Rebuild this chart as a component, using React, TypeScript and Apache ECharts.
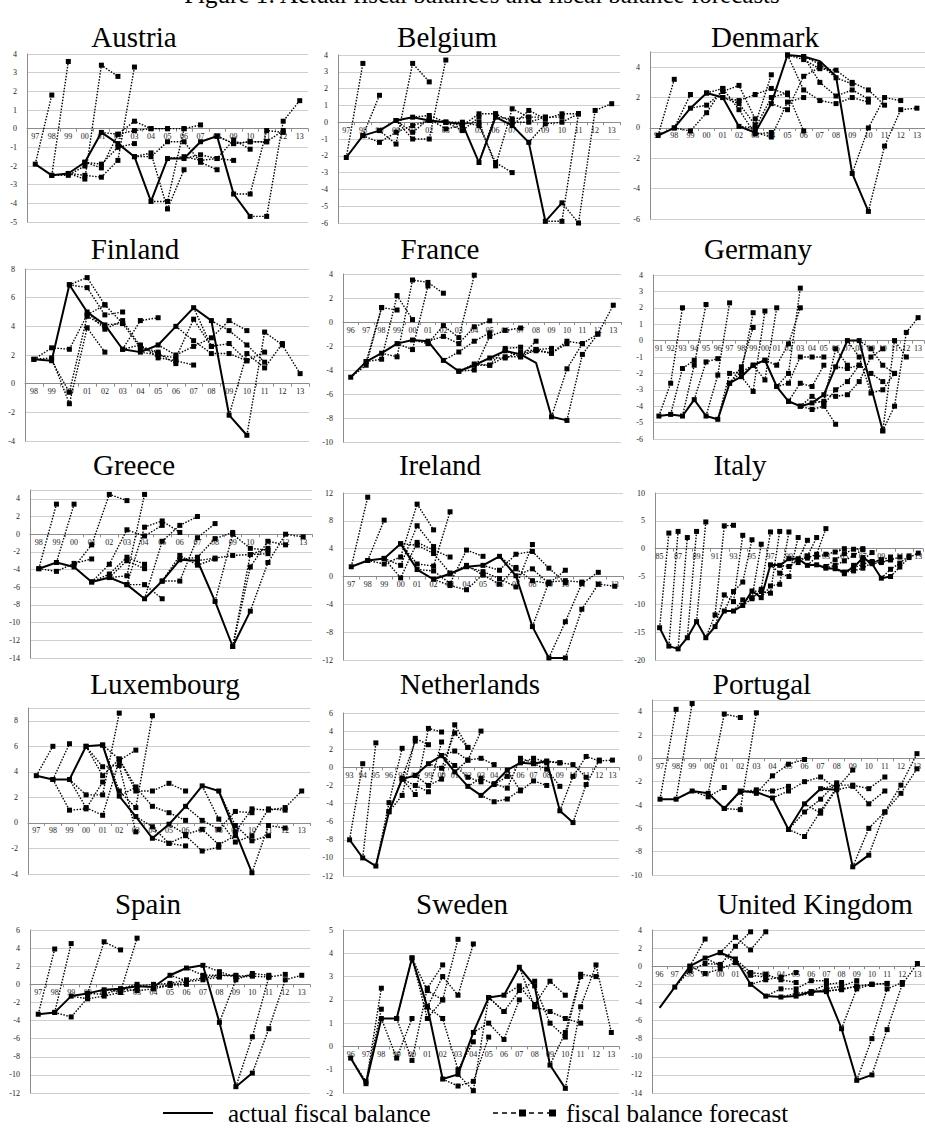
import React, { useEffect, useRef } from "react";
import * as echarts from "echarts";

type FC = (string | number)[];

const yrs = (from: number, to: number) => {
  const out: string[] = [];
  for (let y = from; y <= to; y++) out.push(String(y % 100).padStart(2, "0"));
  return out;
};

// ---------- data ----------
const austriaYears = yrs(1997, 2013);
const austriaActual = [-1.9, -2.5, -2.4, -1.8, -0.2, -0.8, -1.5, -3.9, -1.6, -1.6, -0.7, -0.4, -3.5, -4.7];
const austriaForecasts: FC[] = [
  ["97", -1.9, 1.8], ["98", -2.5, 3.6], ["98", -2.5, -2.5, -2.0],
  ["99", -2.4, -2.7, 3.4, 2.8], ["99", -2.4, -2.5, -2.6, -1.7, 3.3],
  ["00", -1.8, -2.1, -0.3, 0.4, 0.0, 0.0], ["00", -1.8, -1.9, -1.0, -0.8],
  ["01", -0.2, -0.3, -0.1, 0.0, 0.0, 0.0], ["02", -0.8, -1.5, -1.3, -4.3, -2.2],
  ["03", -1.5, -1.5, -0.7, -0.7, -1.8, -2.2], ["04", -3.9, -3.9, 0.0, 0.2],
  ["05", -1.6, -1.5, -1.7, -1.6, -1.7], ["06", -1.6, -1.4, -1.6, -0.6, -1.1],
  ["07", -0.7, -0.4, -0.8, -0.7, -0.7], ["08", -0.4, -0.8, -0.7, -0.7, -0.1],
  ["09", -3.5, -3.5, -0.1, -0.2], ["10", -4.7, -4.7, 0.4, 1.5],
];

const belgiumYears = yrs(1997, 2013);
const belgiumActual = [-2.1, -0.8, -0.5, 0.1, 0.3, 0.1, 0.0, -0.1, -2.4, 0.3, -0.2, -1.2, -5.9, -4.8];
const belgiumForecasts: FC[] = [
  ["97", -2.1, 3.5], ["98", -0.8, 1.6], ["98", -0.8, -1.2, -0.6, -0.2, 0.1],
  ["99", -0.5, -1.3, 3.5, 2.4], ["00", 0.1, -1.0, -1.0, 3.7], ["00", 0.1, -0.6, 0.2, -0.4, -0.2],
  ["01", 0.3, 0.4, 0.0, -0.5, 0.3], ["02", 0.1, 0.0, -0.2, 0.5, 0.5],
  ["03", 0.0, 0.0, -0.2, -2.4, -3.0], ["04", -0.1, 0.0, -2.6, 0.8, 0.3],
  ["05", -2.4, 0.5, 0.0, 0.0, 0.3], ["06", 0.3, 0.2, 0.3, 0.3, 0.3],
  ["07", -0.2, 0.7, 0.2, 0.5, 0.5], ["08", -1.2, -0.1, 0.0, 0.5],
  ["09", -5.9, -5.9, 0.5], ["10", -4.8, -6.0, 0.7, 1.1],
];

const denmarkYears = yrs(1997, 2013);
const denmarkActual = [-0.5, 0.0, 1.3, 2.3, 2.0, 0.1, -0.3, 1.6, 4.8, 4.7, 4.4, 3.4, -3.0, -5.5];
const denmarkForecasts: FC[] = [
  ["97", -0.5, 3.2], ["98", 0.0, 2.2], ["98", 0.0, -0.2, 1.0, 2.6],
  ["99", 1.3, 1.5, 2.4, 2.8, 0.6], ["00", 2.3, 2.0, 1.6, 0.2, 3.5],
  ["00", 2.3, 2.6, 1.2, -0.4, -0.3], ["01", 2.0, 1.8, 2.2, 2.6, 2.2],
  ["02", 0.1, 0.0, 2.0, 2.3, -0.2], ["03", -0.3, -0.6, 1.7, 2.0],
  ["04", 1.6, 1.2, 3.4, 4.0], ["05", 4.8, 4.5, 3.9, 3.8, 3.0, 2.5, 1.5],
  ["05", 4.8, 2.5, 1.8, 1.6, 2.0, 1.7], ["06", 4.7, 3.0, 2.1, 2.5, 1.9],
  ["06", 4.7, 4.2, 3.3, 2.9], ["09", -3.0, 0.0, 2.0, 1.8], ["10", -5.5, -1.2, 1.2, 1.3],
];

const finlandYears = yrs(1998, 2013);
const finlandActual = [1.7, 1.6, 6.9, 5.0, 4.1, 2.4, 2.2, 2.7, 4.0, 5.3, 4.4, -2.2, -3.6];
const finlandForecasts: FC[] = [
  ["98", 1.7, 2.5, 2.4, 4.8, 5.5], ["98", 1.7, 1.8, -1.4, 3.9, 2.2],
  ["99", 1.6, -0.6, 4.7, 4.0], ["00", 6.9, 7.4, 5.5, 4.2], ["00", 6.9, 6.7, 4.8, 5.0],
  ["01", 5.0, 3.8, 4.4, 2.6, 2.2], ["02", 4.1, 4.2, 2.5, 2.1, 1.4], ["03", 2.4, 4.4, 4.6],
  ["03", 2.4, 2.7, 1.8, 1.6, 1.3], ["04", 2.2, 2.0, 1.8, 4.5, 2.6],
  ["05", 2.7, 2.0, 2.6, 3.2, 4.4, 3.7], ["06", 4.0, 3.0, 2.1, 2.1, 1.6],
  ["07", 5.3, 2.6, 2.8, 1.6, 2.2], ["08", 4.4, 3.7, 2.7, 1.5],
  ["09", -2.2, 2.1, 1.1, 2.8], ["10", -3.6, 3.6, 2.7, 0.7],
];

const franceYears = yrs(1996, 2013);
const franceActual = [-4.6, -3.3, -2.6, -1.8, -1.5, -1.6, -3.2, -4.1, -3.6, -3.0, -2.4, -2.7, -3.4, -7.9, -8.2];
const franceForecasts: FC[] = [
  ["96", -4.6, -3.6, 1.2], ["97", -3.3, -3.1, 2.2, 0.2], ["97", -3.3, 1.2, 1.0],
  ["98", -2.6, -2.9, 3.5, 3.3, 2.4], ["99", -1.8, -2.3, 3.0], ["00", -1.5, -1.8, -0.3, -1.3, 3.9],
  ["01", -1.6, -1.2, -1.8, -0.4, 0.1], ["02", -3.2, -2.5, -1.6, -0.9],
  ["03", -4.1, -4.0, -1.2, -0.7, -0.5], ["03", -4.1, -3.5, -3.6, -2.2, -2.1],
  ["04", -3.6, -3.6, -2.9, -2.9, -1.6], ["05", -3.0, -3.0, -2.5, -2.3, -2.2],
  ["06", -2.4, -2.9, -2.3, -2.6, -1.8], ["07", -2.7, -2.4, -2.6, -1.6, -1.8],
  ["09", -7.9, -3.9, -1.8, -1.0], ["10", -8.2, -2.7, -1.0, 1.4],
];

const germanyYears = yrs(1991, 2013);
const germanyActual = [-4.6, -4.5, -4.6, -3.6, -4.6, -4.8, -2.6, -2.2, -1.5, -1.2, -2.8, -3.7, -4.0, -3.8, -3.3, -1.6, 0.0, 0.0, -2.8, -5.5];
const germanyForecasts: FC[] = [
  ["91", -4.6, -2.6, 2.0], ["92", -4.5, -1.7, -1.2], ["93", -4.6, -1.5, 2.2],
  ["94", -3.6, -1.3, -1.1], ["95", -4.6, -2.1, 2.3], ["96", -4.8, -2.0, -1.9, 1.7],
  ["97", -2.6, -1.6, 0.8], ["97", -2.6, -1.9, -1.5, -1.2], ["98", -2.2, -3.1, 1.8],
  ["99", -1.5, -2.4, 2.0], ["00", -1.2, -1.5, -0.2, 2.0], ["01", -2.8, -2.0, 3.2],
  ["01", -2.8, -2.6, -1.0, -1.0, -1.0], ["02", -3.7, -2.6, -2.8, -1.5],
  ["02", -3.7, -4.0, -4.2, -4.0, -5.1], ["03", -4.0, -3.4, -3.9, -3.0, -2.5, -1.5],
  ["04", -3.8, -3.7, -0.5, -1.5], ["05", -3.3, -3.4, -3.3, -2.5, -1.0, -0.5],
  ["06", -1.6, -1.7, -1.5, -2.0, -2.5], ["07", 0.0, -1.0, -3.2, -3.0, -2.0],
  ["08", 0.0, -0.5, -1.5, -2.0], ["10", -5.5, -4.0, 0.5, 1.4], ["10", -5.5, 0.0, -1.0],
];

const greeceYears = yrs(1998, 2013);
const greeceActual = [-3.9, -3.2, -3.7, -5.4, -4.9, -5.7, -7.3, -5.3, -2.9, -3.0, -7.6, -12.7, -8.7];
const greeceForecasts: FC[] = [
  ["98", -3.9, 3.4], ["98", -3.9, -4.2, -3.3, -2.8], ["99", -3.2, 3.4],
  ["00", -3.7, -1.2, 4.5, 3.8], ["01", -5.4, -3.4, 0.5, -0.2, 1.0], ["01", -5.4, -4.5, -2.6, -3.4],
  ["02", -4.9, -4.7, 4.5], ["02", -4.9, -3.0, -3.9], ["03", -5.7, 0.8, 1.5, 0.2],
  ["03", -5.7, -5.7, -7.3], ["04", -7.3, -0.8, 1.0, 2.0], ["05", -5.3, -5.3, -0.4, 1.2],
  ["05", -5.3, -2.4, -3.5, -2.8], ["06", -2.9, -2.6, -0.5, 0.2], ["07", -3.0, -2.7, -2.4, -2.3, -2.2],
  ["08", -7.6, 0.0, -1.6, -1.8], ["09", -12.7, -3.7, -0.8, -1.2], ["09", -12.7, -2.3, -1.6],
  ["10", -8.7, -3.2, 0.0, -0.3],
];

const irelandYears = yrs(1997, 2013);
const irelandActual = [1.4, 2.3, 2.6, 4.7, 1.0, -0.4, 0.4, 1.4, 1.6, 2.9, 0.1, -7.2, -11.7, -11.7];
const irelandForecasts: FC[] = [
  ["97", 1.4, 11.4], ["98", 2.3, 8.1], ["98", 2.3, 1.8, 2.8, 10.4, 6.7],
  ["99", 2.6, 1.6, 7.3, 4.3], ["99", 2.6, -0.2, 4.9, 3.8, 2.8], ["00", 4.7, 1.8, 1.5, 9.3],
  ["00", 4.7, 4.5, 3.3, 0.5], ["01", 1.0, 0.8, -1.0, 3.8, 2.9], ["02", -0.4, -1.3, -1.9, 0.3],
  ["03", 0.4, 1.6, 0.2, -1.1, 1.3], ["04", 1.4, 0.7, -0.3, -1.5, 4.6],
  ["05", 1.6, 0.9, 3.2, 3.6, 1.2, -0.9], ["06", 2.9, 1.1, -0.6, -1.0], ["07", 0.1, 1.1, -1.0, 0.9],
  ["08", -7.2, -0.8, -0.6, -0.8], ["09", -11.7, -6.5, -1.0, 0.6], ["10", -11.7, -4.7, -1.1, -1.4],
];

const italyYears = yrs(1985, 2013);
const italyActual = [-14.2, -17.5, -18.0, -16.0, -13.1, -16.0, -14.0, -11.2, -11.2, -10.2, -7.6, -8.8, -2.9, -3.0, -1.8, -1.8, -3.0, -2.9, -3.5, -3.6, -4.2, -3.4, -1.6, -2.7, -5.3, -5.0];
const italyForecasts: FC[] = [
  ["85", -14.2, 2.8], ["86", -17.5, 3.1], ["87", -18.0, 2.0], ["88", -16.0, 3.1], ["89", -13.1, 4.8],
  ["90", -16.0, -11.9, 4.1, 4.2], ["91", -14.0, -8.3, -9.5, 2.4], ["92", -11.2, -7.7, -6.0, 1.6],
  ["93", -11.2, -9.2, -8.8, 0.8], ["94", -10.2, -9.0, -7.3, 3.0], ["95", -7.6, -7.7, -8.0, 3.1],
  ["96", -8.8, -6.7, -6.4, 3.0], ["97", -2.9, -4.4, -5.0, 2.0], ["98", -3.0, -3.2, -2.0, 1.5],
  ["99", -1.8, -2.5, -1.3, 2.0], ["00", -1.8, -1.7, -1.0, 3.6], ["01", -3.0, -1.5, -1.0, -0.6, 0.0],
  ["02", -2.9, -3.2, -2.0, -0.9, -0.1, 0.0], ["03", -3.5, -3.0, -2.2, -1.2, -0.2],
  ["04", -3.6, -4.5, -3.0, -2.0, -0.7], ["05", -4.2, -4.0, -3.5, -2.5, -2.0],
  ["06", -3.4, -2.8, -2.3, -2.0, -1.5], ["07", -1.6, -2.5, -2.3, -2.0], ["08", -2.7, -2.5, -2.0, -1.5],
  ["09", -5.3, -3.7, -2.6, -1.3], ["10", -5.0, -3.3, -1.6, -0.8],
];

const luxembourgYears = yrs(1997, 2013);
const luxembourgActual = [3.7, 3.4, 3.4, 6.0, 6.1, 2.1, 0.5, -1.2, -0.1, 1.3, 2.9, 2.5, -0.7, -3.9];
const luxembourgForecasts: FC[] = [
  ["97", 3.7, 6.0], ["98", 3.4, 6.2], ["98", 3.4, 1.0, 1.1, 3.2], ["99", 3.4, 2.2, 2.2, 8.6],
  ["99", 3.4, 1.2, 0.6, 4.9, 5.7], ["00", 6.0, 3.7, 5.0, 2.8], ["00", 6.0, 4.4, 4.5, -0.7],
  ["01", 6.1, 2.5, 1.2, 8.4], ["01", 6.1, 5.0, 2.5, 2.5, 3.1, 2.5], ["02", 2.1, 2.8, 1.3, 0.8, 0.2],
  ["03", 0.5, -0.3, -1.6, -1.8], ["04", -1.2, -1.6, -1.0, -2.2, -1.9], ["05", -0.1, -0.9, -0.5, -1.7, -1.0],
  ["06", 1.3, 0.2, -0.5, 0.9, 0.8], ["07", 2.9, 0.3, -1.5, -1.0, 1.1, 1.0], ["08", 2.5, -0.2, -1.4, -1.0],
  ["09", -0.7, 1.1, 1.0, 1.2, 2.5], ["10", -3.9, -0.2, -0.4],
];

const netherlandsYears = yrs(1993, 2013);
const netherlandsActual = [-8.0, -10.0, -10.9, -4.9, -1.3, -0.9, 0.4, 1.3, -0.5, -2.1, -3.1, -1.8, -0.3, 0.5, 0.4, 0.7, -4.8, -6.1];
const netherlandsForecasts: FC[] = [
  ["93", -8.0, 0.4], ["94", -10.0, 2.7], ["95", -10.9, -3.9, 2.1], ["96", -4.9, -3.1, 3.2, 2.5],
  ["96", -4.9, -1.2, 2.9], ["97", -1.3, -3.0, 4.3, 3.9], ["97", -1.3, -2.0, -2.7, 2.8],
  ["98", -0.9, -2.0, -1.3, 4.7, 2.2], ["99", 0.4, -0.1, 3.8, 2.2], ["00", 1.3, 1.8, 0.8, 4.0],
  ["00", 1.3, 0.2, -1.1, -1.6], ["01", -0.5, 0.8, 1.0, 0.3], ["02", -2.1, -1.2, -1.9, -1.0],
  ["03", -3.1, -3.8, -3.5, -2.5], ["04", -1.8, -2.3, 1.0, 0.5, 0.5], ["05", -0.3, -2.6, -1.5, -2.0],
  ["06", 0.5, 1.0, 0.6, 0.5], ["07", 0.4, -0.2, -2.1], ["08", 0.7, 0.5, 0.3, -1.1],
  ["09", -4.8, -1.0, 1.2, 0.7, 0.8, 1.5], ["10", -6.1, -1.9, 0.8],
];

const portugalYears = yrs(1997, 2013);
const portugalActual = [-3.5, -3.5, -2.8, -3.0, -4.3, -2.8, -2.9, -3.4, -6.1, -3.9, -2.6, -2.7, -9.3, -8.3];
const portugalForecasts: FC[] = [
  ["97", -3.5, 4.2], ["98", -3.5, 4.7], ["99", -2.8, -3.3, -2.5], ["00", -3.0, 3.8, 3.5],
  ["01", -4.3, -4.4, 3.9], ["01", -4.3, -2.9, -2.7, -2.8, -2.4], ["02", -2.8, -3.0, -1.5, -0.5, -0.1],
  ["04", -3.4, -2.8, -2.0, -1.6, -2.6], ["05", -6.1, -6.7, -4.5, -2.5], ["05", -6.1, -4.6, -3.5, -2.1],
  ["06", -3.9, -4.7, -2.6, -1.0], ["07", -2.6, -2.3, -2.3, -2.6, -1.6], ["08", -2.7, -2.4, -3.9, -2.8],
  ["09", -9.3, -6.0, -4.6, -3.0, -0.9], ["10", -8.3, -4.6, -2.3, 0.4],
];

const spainYears = yrs(1997, 2013);
const spainActual = [-3.3, -3.1, -1.3, -1.0, -0.6, -0.5, -0.2, -0.3, 1.0, 1.8, 2.1, -4.2, -11.3, -9.8];
const spainForecasts: FC[] = [
  ["97", -3.3, 3.9], ["98", -3.1, 4.5], ["98", -3.1, -3.6, -1.5], ["99", -1.3, -1.6, -1.3, -0.9, -0.5],
  ["00", -1.0, 4.7, 3.8], ["01", -0.6, -0.8, 5.1], ["00", -1.0, -1.1, -0.5, 0.0],
  ["02", -0.5, -0.7, -0.5, -0.1, 0.0], ["03", -0.2, 0.0, 0.1, 0.5], ["04", -0.3, -0.1, 0.3, 0.5, 0.8],
  ["05", 1.0, 0.4, 0.7, 1.0, 1.0], ["06", 1.8, 1.0, 1.0, 0.9, 1.0], ["07", 2.1, 1.4, 0.8, 0.9, 0.8],
  ["08", -4.2, 0.5, 1.2, 1.0], ["09", -11.3, -5.8, 0.8, 1.1], ["10", -9.8, -4.9, 0.5, 1.0, -0.3],
];

const swedenYears = yrs(1996, 2013);
const swedenActual = [-0.5, -1.6, 1.2, 1.2, 3.8, 1.7, -1.4, -1.2, 0.6, 2.1, 2.2, 3.4, 2.6, -0.8, -1.8];
const swedenForecasts: FC[] = [
  ["96", -0.5, -1.5, 1.6], ["97", -1.6, 2.5], ["98", 1.2, -0.5, 1.2], ["99", 1.2, 3.8, 1.2, 2.0],
  ["99", 1.2, -0.6, 2.5, 3.5], ["00", 3.8, 2.4, 2.0, 4.6], ["01", 1.7, 3.0, 2.2, 4.4],
  ["01", 1.7, 1.2, -1.0, 0.2], ["02", -1.4, -1.7, -1.5, 0.4], ["03", -1.2, -1.9, 2.1, 1.5],
  ["04", 0.6, 1.0, 0.3, 2.0], ["05", 2.1, 1.5, 2.4, 2.8], ["06", 2.2, 2.6, 1.8, 2.8, 2.2],
  ["07", 3.4, 1.7, 1.5, 1.2, 1.0], ["08", 2.6, 1.0, 0.4, 3.0], ["09", -0.8, 0.6, 3.1, 3.0],
  ["10", -1.8, 1.7, 3.5, 0.6],
];

const ukYears = yrs(1996, 2013);
const ukActual = [-4.6, -2.3, 0.0, 0.9, 1.5, 0.8, -2.0, -3.3, -3.4, -3.3, -2.8, -2.8, -6.9, -12.6, -12.0];
const ukForecasts: FC[] = [
  ["97", -2.3, -0.5, 0.3, 0.2], ["98", 0.0, 3.0], ["98", 0.0, -0.8, -0.3, 0.4],
  ["99", 0.9, 0.1, 2.2, 3.8], ["00", 1.5, 3.2, 1.8, 3.8], ["00", 1.5, 0.4, -1.0, -1.2],
  ["01", 0.8, -0.7, -0.9, -1.5, -1.8], ["02", -2.0, -1.5, -1.2, -0.7], ["03", -3.3, -2.5, -2.5, -1.6, -1.6],
  ["04", -3.4, -3.0, -2.8, -2.0, -1.8], ["05", -3.3, -3.0, -2.5, -2.2, -1.6],
  ["06", -2.8, -2.7, -2.6, -2.2, -2.0], ["07", -2.8, -2.5, -2.2, -2.0, -1.9],
  ["08", -6.9, -2.5, -2.0, -1.9], ["09", -12.6, -8.0, -2.5, -1.8], ["10", -12.0, -7.0, -2.0, 0.3],
];

const countryNames = ["Austria", "Belgium", "Denmark", "Finland", "France", "Germany", "Greece", "Ireland", "Italy", "Luxembourg", "Netherlands", "Portugal", "Spain", "Sweden", "United Kingdom"];
const yearLists = [austriaYears, belgiumYears, denmarkYears, finlandYears, franceYears, germanyYears, greeceYears, irelandYears, italyYears, luxembourgYears, netherlandsYears, portugalYears, spainYears, swedenYears, ukYears];
const actualLists = [austriaActual, belgiumActual, denmarkActual, finlandActual, franceActual, germanyActual, greeceActual, irelandActual, italyActual, luxembourgActual, netherlandsActual, portugalActual, spainActual, swedenActual, ukActual];
const forecastLists = [austriaForecasts, belgiumForecasts, denmarkForecasts, finlandForecasts, franceForecasts, germanyForecasts, greeceForecasts, irelandForecasts, italyForecasts, luxembourgForecasts, netherlandsForecasts, portugalForecasts, spainForecasts, swedenForecasts, ukForecasts];
// y-axis scales: [min, max, interval]
const yScales = [[-5, 4, 1], [-6, 4, 1], [-6, 5, 2], [-4, 8, 2], [-10, 4, 2], [-6, 4, 1], [-14, 5, 2], [-12, 12, 4], [-20, 10, 5], [-4, 9, 2], [-12, 6, 2], [-10, 5, 2], [-12, 6, 2], [-2, 5, 1], [-14, 4, 2]];

// ---------- layout (pixels) ----------
const layouts = [
  { left: 27, top: 54, width: 281, height: 168, tx: 134, ty: 37 },
  { left: 338, top: 55, width: 282, height: 168, tx: 447, ty: 37 },
  { left: 650, top: 52, width: 283, height: 167, tx: 765, ty: 37 },
  { left: 25, top: 269, width: 284, height: 172, tx: 135, ty: 249 },
  { left: 343, top: 274, width: 278, height: 168, tx: 440, ty: 249 },
  { left: 653, top: 275, width: 276, height: 164, tx: 758, ty: 249 },
  { left: 30, top: 490, width: 282, height: 168, tx: 134, ty: 465 },
  { left: 343, top: 493, width: 280, height: 167, tx: 440, ty: 465 },
  { left: 655, top: 493, width: 283, height: 167, tx: 740, ty: 465 },
  { left: 28, top: 708, width: 282, height: 166, tx: 165, ty: 684 },
  { left: 343, top: 713, width: 276, height: 163, tx: 470, ty: 684 },
  { left: 652, top: 700, width: 280, height: 175, tx: 762, ty: 684 },
  { left: 30, top: 930, width: 280, height: 163, tx: 148, ty: 904 },
  { left: 343, top: 930, width: 276, height: 163, tx: 462, ty: 904 },
  { left: 652, top: 930, width: 280, height: 163, tx: 815, ty: 904 },
];

const SERIF = '"Liberation Serif", "Times New Roman", serif';

function forecastData(years: string[], fc: FC) {
  const start = fc[0] as string;
  const vals = fc.slice(1) as number[];
  const idx = years.indexOf(start);
  return years.map((_, j) => (j >= idx && j < idx + vals.length ? vals[j - idx] : null));
}

function buildOption() {
  const grid: any[] = [];
  const xAxis: any[] = [];
  const yAxis: any[] = [];
  const series: any[] = [];
  const graphic: any[] = [];

  countryNames.forEach((name, i) => {
    const l = layouts[i];
    const [mn, mx, iv] = yScales[i];
    const years = yearLists[i];
    // distance (px) from bottom of the plot to the zero line
    const zeroOffset = (l.height * (0 - mn)) / (mx - mn);
    grid.push({ left: l.left, top: l.top, width: l.width, height: l.height, containLabel: false });
    xAxis.push({
      type: "category",
      gridIndex: i,
      position: "bottom",
      offset: -zeroOffset,
      data: years,
      boundaryGap: true,
      axisLine: { show: true, onZero: false, lineStyle: { color: "#8c8c8c", width: 1 } },
      axisTick: { show: true, length: 3, lineStyle: { color: "#8c8c8c" } },
      axisLabel: { interval: name === "Italy" ? 1 : 0, fontSize: 8, fontFamily: SERIF, color: "#222", margin: 4 },
      splitLine: { show: false },
      z: 1,
    });
    yAxis.push({
      type: "value",
      gridIndex: i,
      min: mn,
      max: mx,
      interval: iv,
      axisLine: { show: true, lineStyle: { color: "#8c8c8c", width: 1 } },
      axisTick: { show: false },
      axisLabel: { fontSize: 8, fontFamily: SERIF, color: "#222", margin: 10, showMaxLabel: (mx - mn) % iv === 0 },
      splitLine: { show: true, lineStyle: { color: "#cfcfcf", width: 1 } },
    });
    forecastLists[i].forEach((fc) => {
      series.push({
        type: "line",
        xAxisIndex: i,
        yAxisIndex: i,
        data: forecastData(years, fc),
        symbol: "rect",
        symbolSize: 5,
        showAllSymbol: true,
        silent: true,
        z: 2,
        lineStyle: { color: "#000", width: 1.4, type: [1.5, 1.5] },
        itemStyle: { color: "#000" },
      });
    });
    series.push({
      type: "line",
      xAxisIndex: i,
      yAxisIndex: i,
      data: years.map((_, j) => (j < actualLists[i].length ? actualLists[i][j] : null)),
      symbol: "none",
      silent: true,
      z: 3,
      lineStyle: { color: "#000", width: 2 },
    });
    graphic.push({
      type: "text",
      x: l.tx,
      y: l.ty,
      style: { text: name, fill: "#000", font: `29px ${SERIF}`, align: "center", verticalAlign: "middle" },
    });
  });

  // cut-off figure caption at the very top
  graphic.push({
    type: "text",
    x: 482,
    y: 7,
    style: { text: "Figure 1: Actual fiscal balances and fiscal balance forecasts", fill: "#000", font: `25px ${SERIF}`, align: "center", verticalAlign: "bottom" },
  });

  // legend
  const ly = 1113;
  graphic.push({ type: "line", shape: { x1: 163, y1: ly, x2: 213, y2: ly }, style: { stroke: "#000", lineWidth: 2 } });
  graphic.push({ type: "text", x: 228, y: ly, style: { text: "actual fiscal balance", fill: "#000", font: `25px ${SERIF}`, align: "left", verticalAlign: "middle" } });
  graphic.push({ type: "line", shape: { x1: 493, y1: ly, x2: 553, y2: ly }, style: { stroke: "#000", lineWidth: 1.5, lineDash: [5, 4] } });
  graphic.push({ type: "rect", shape: { x: 519, y: ly - 3.5, width: 7, height: 7 }, style: { fill: "#000" } });
  graphic.push({ type: "rect", shape: { x: 549, y: ly - 3.5, width: 7, height: 7 }, style: { fill: "#000" } });
  graphic.push({ type: "text", x: 566, y: ly, style: { text: "fiscal balance forecast", fill: "#000", font: `25px ${SERIF}`, align: "left", verticalAlign: "middle" } });

  return {
    animation: false,
    backgroundColor: "#fff",
    grid,
    xAxis,
    yAxis,
    series,
    graphic,
  };
}

export default function App() {
  const ref = useRef<HTMLDivElement>(null);
  useEffect(() => {
    if (!ref.current) return;
    const chart = echarts.init(ref.current, undefined, { renderer: "svg" });
    chart.setOption(buildOption() as any);
    return () => chart.dispose();
  }, []);
  return <div ref={ref} style={{ position: "absolute", left: 0, top: 0, width: 925, height: 1133 }} />;
}
